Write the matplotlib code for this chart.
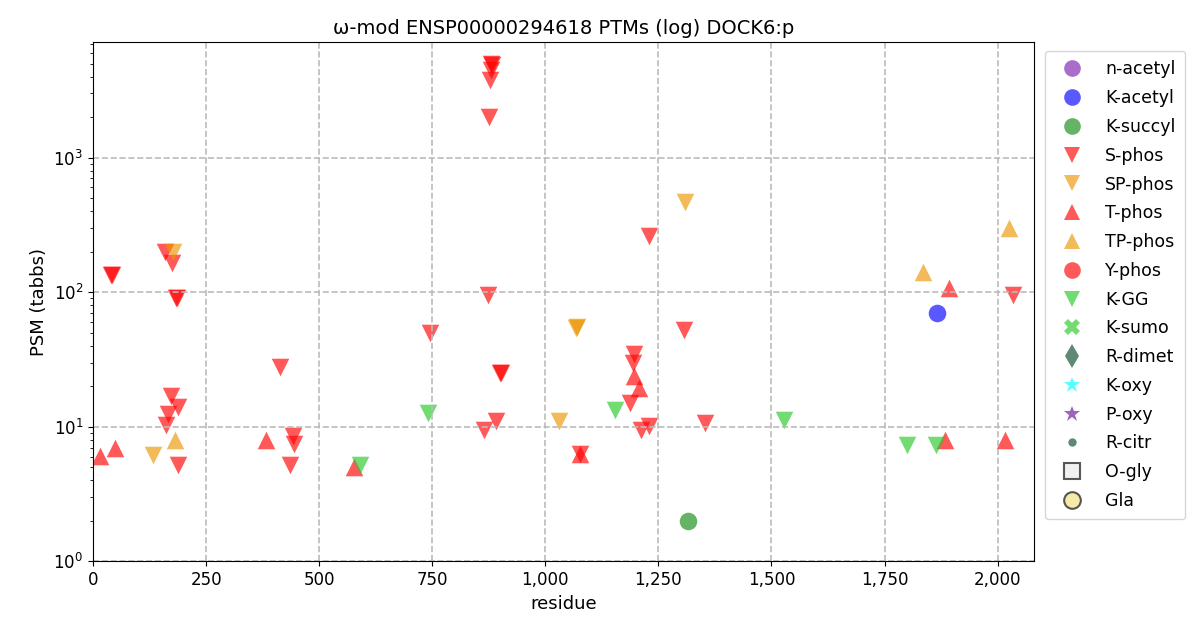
import matplotlib
matplotlib.use("Agg")
import matplotlib.pyplot as plt
from matplotlib.ticker import FuncFormatter
from matplotlib.lines import Line2D

# residue / PSM pairs per modification type
s_phos_x = [40, 42, 160, 175, 184, 186, 173, 166, 162, 188, 188, 414, 436, 443, 444,
            746, 873, 864, 891, 899, 901, 880, 882, 879, 877, 876,
            1307, 1196, 1194, 1187, 1211, 1229, 1353, 1076, 1229, 2033]
s_phos_y = [135, 135, 200, 165, 90, 90, 17, 12.5, 10.3, 14, 5.2, 28, 5.2, 8.6, 7.5,
            50, 95, 9.4, 11, 25, 25, 5000, 4900, 4500, 3800, 2000,
            52, 35, 30, 15, 9.4, 10.2, 10.6, 6.3, 260, 95]
sp_phos_x = [177, 133, 1030, 1068, 1071, 1309]
sp_phos_y = [200, 6.2, 11, 54, 55, 465]
t_phos_x = [15, 49, 383, 577, 1076, 1196, 1207, 1883, 1892, 2016]
t_phos_y = [6.1, 6.9, 7.9, 5.0, 6.3, 24, 19.5, 7.9, 107, 7.9]
tp_phos_x = [182, 1836, 2026]
tp_phos_y = [7.9, 140, 300]
kgg_x = [591, 741, 1155, 1527, 1799, 1863]
kgg_y = [5.2, 12.6, 13.3, 11.2, 7.3, 7.3]
k_acetyl_x = [1867]
k_acetyl_y = [70]
k_succyl_x = [1316]
k_succyl_y = [2.0]

fig = plt.figure(figsize=(12, 6.4), dpi=100)
ax = fig.add_axes([0.0775, 0.123, 0.784, 0.811])

sz = 160
ax.scatter(k_acetyl_x, k_acetyl_y, marker='o', s=sz, c='#0000ff', alpha=0.65, lw=0)
ax.scatter(k_succyl_x, k_succyl_y, marker='o', s=sz, c='#138a13', alpha=0.65, lw=0)
ax.scatter(s_phos_x, s_phos_y, marker='v', s=sz, c='#ff0000', alpha=0.65, lw=0)
ax.scatter(sp_phos_x, sp_phos_y, marker='v', s=sz, c='#eb9600', alpha=0.65, lw=0)
ax.scatter(t_phos_x, t_phos_y, marker='^', s=sz, c='#ff0000', alpha=0.65, lw=0)
ax.scatter(tp_phos_x, tp_phos_y, marker='^', s=sz, c='#eb9600', alpha=0.65, lw=0)
ax.scatter(kgg_x, kgg_y, marker='v', s=sz, c='#27c927', alpha=0.65, lw=0)

ax.set_yscale('log')
ax.set_xlim(0, 2080)
ax.set_ylim(1, 7200)
ax.xaxis.set_major_formatter(FuncFormatter(lambda v, p: '{:,.0f}'.format(v)))
ax.grid(True, ls='--', color='#bbbbbb', lw=1.2, which='major')
ax.set_xlabel('residue', fontsize=13)
ax.set_ylabel('PSM (tabbs)', fontsize=13)
ax.set_title('\u03c9-mod ENSP00000294618 PTMs (log) DOCK6:p', fontsize=14)
ax.tick_params(labelsize=12)

legend_items = [
    ('n-acetyl', 'o', '#7f1fb0', None, 12),
    ('K-acetyl', 'o', '#0000ff', None, 12),
    ('K-succyl', 'o', '#138a13', None, 12),
    ('S-phos', 'v', '#ff0000', None, 12),
    ('SP-phos', 'v', '#eb9600', None, 12),
    ('T-phos', '^', '#ff0000', None, 12),
    ('TP-phos', '^', '#eb9600', None, 12),
    ('Y-phos', 'o', '#ff0000', None, 12),
    ('K-GG', 'v', '#27c927', None, 12),
    ('K-sumo', 'X', '#27c927', None, 12),
    ('R-dimet', 'd', '#0b4a2a', None, 12),
    ('K-oxy', '*', '#00ffff', None, 12),
    ('P-oxy', '*', '#6a0f9a', None, 12),
    ('R-citr', '.', '#0b4a2a', None, 12),
    ('O-gly', 's', '#e8e8e8', 'k', 12),
    ('Gla', 'o', '#f0df80', 'k', 12),
]
handles = []
for name, mk, col, ec, ms in legend_items:
    handles.append(Line2D([], [], ls='', marker=mk, color=col, markersize=ms, alpha=0.65,
                          markeredgecolor=ec if ec else col, markeredgewidth=1.5 if ec else 0,
                          label=name))
ax.legend(handles=handles, loc='upper left', bbox_to_anchor=(1.003, 1.0), fontsize=12.5,
          labelspacing=0.62, handletextpad=0.9, borderpad=0.55)

fig.savefig('out.png')
